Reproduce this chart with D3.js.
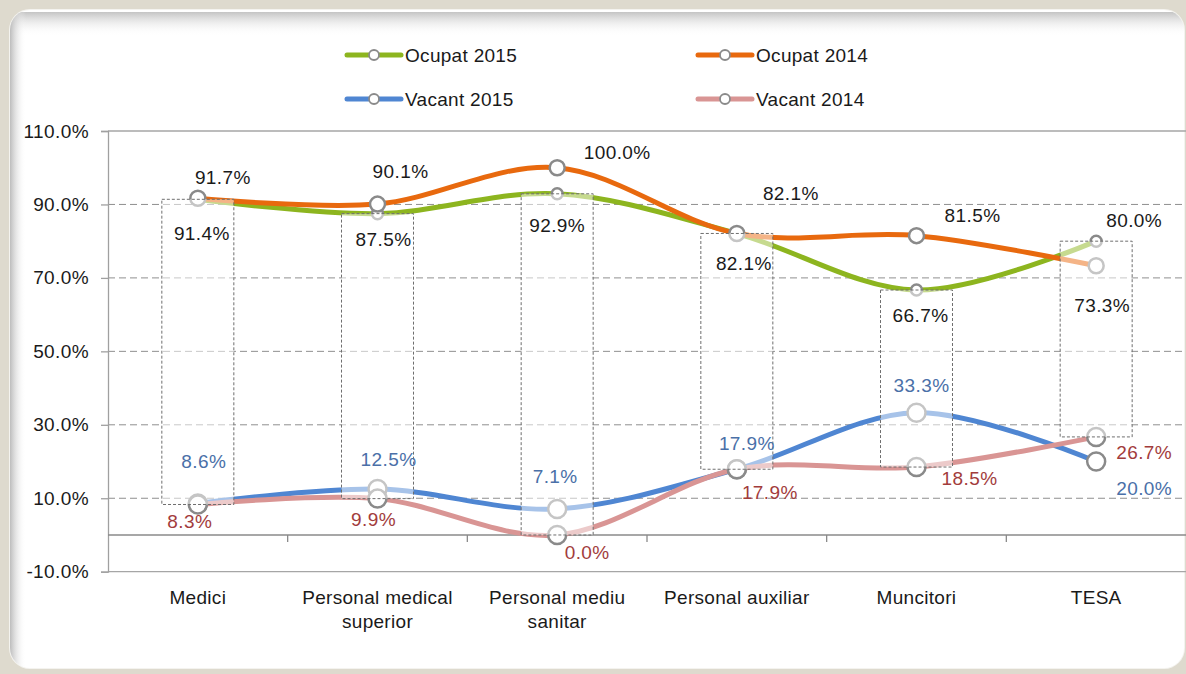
<!DOCTYPE html>
<html>
<head>
  <meta charset="utf-8">
  <title>Ocupat / Vacant 2014-2015</title>
  <script src="https://d3js.org/d3.v7.min.js"></script>
  <style>
    body { margin: 0; background: #dedace; }
    text { font-family: "Liberation Sans", Arial, sans-serif; }
  </style>
</head>
<body>
  <script>
    // data
    const categories = ["Medici", "Personal medical superior", "Personal mediu sanitar",
                        "Personal auxiliar", "Muncitori", "TESA"];
    const categoryLines = [["Medici"], ["Personal medical", "superior"], ["Personal mediu", "sanitar"],
                           ["Personal auxiliar"], ["Muncitori"], ["TESA"]];
    const ocupat2015 = [91.4, 87.5, 92.9, 82.1, 66.7, 80.0];
    const ocupat2014 = [91.7, 90.1, 100.0, 82.1, 81.5, 73.3];
    const vacant2015 = [8.6, 12.5, 7.1, 17.9, 33.3, 20.0];
    const vacant2014 = [8.3, 9.9, 0.0, 17.9, 18.5, 26.7];
    const yTicks = [-10, 10, 30, 50, 70, 90, 110];

    // series styling (drawing order = excel order)
    const series = [
      { name: "Ocupat 2015", values: ocupat2015, color: "#8db51f", text: "#1a1a1a", r: 5.5 },
      { name: "Ocupat 2014", values: ocupat2014, color: "#e8690e", text: "#1a1a1a", r: 7.5 },
      { name: "Vacant 2015", values: vacant2015, color: "#4f86d2", text: "#4a70a8", r: 9 },
      { name: "Vacant 2014", values: vacant2014, color: "#d99594", text: "#a23c3c", r: 9 }
    ];
    // manual label placement (offset from the point, like excel dragged labels)
    const labelOffsets = {
      "Ocupat 2015": [[4, 34], [6, 26], [0, 31], [7, 30], [4, 25], [38, -21]],
      "Ocupat 2014": [[25, -21], [23, -33], [60, -16], [54, -40], [56, -21], [6, 39]],
      "Vacant 2015": [[6, -42], [11, -30], [-2, -33], [10, -26], [5, -28], [48, 27]],
      "Vacant 2014": [[-8, 17], [-4, 21], [30, 17], [33, 23], [53, 11], [48, 15]]
    };

    const width = 1186, height = 674;
    const svg = d3.select("body").append("svg")
        .attr("width", width).attr("height", height);

    // panel with soft shading on top and left
    const defs = svg.append("defs");
    const gTop = defs.append("linearGradient").attr("id", "shadeTop")
        .attr("x1", 0).attr("y1", 0).attr("x2", 0).attr("y2", 1);
    gTop.append("stop").attr("offset", "0%").attr("stop-color", "#bdbdbd").attr("stop-opacity", 0.9);
    gTop.append("stop").attr("offset", "100%").attr("stop-color", "#fff").attr("stop-opacity", 0);
    const gLeft = defs.append("linearGradient").attr("id", "shadeLeft")
        .attr("x1", 0).attr("y1", 0).attr("x2", 1).attr("y2", 0);
    gLeft.append("stop").attr("offset", "0%").attr("stop-color", "#b5b5b5").attr("stop-opacity", 0.9);
    gLeft.append("stop").attr("offset", "100%").attr("stop-color", "#fff").attr("stop-opacity", 0);
    defs.append("clipPath").attr("id", "panelClip")
      .append("rect").attr("x", 10).attr("y", 10).attr("width", 1174).attr("height", 658).attr("rx", 20);

    svg.append("rect").attr("x", 9).attr("y", 9).attr("width", 1176).attr("height", 660).attr("rx", 21)
        .attr("fill", "#f4f3ef");
    svg.append("rect").attr("x", 10).attr("y", 10).attr("width", 1174).attr("height", 658).attr("rx", 20)
        .attr("fill", "#fff");
    const shade = svg.append("g").attr("clip-path", "url(#panelClip)");
    shade.append("rect").attr("x", 10).attr("y", 12).attr("width", 1174).attr("height", 24).attr("fill", "url(#shadeTop)");
    shade.append("rect").attr("x", 10).attr("y", 10).attr("width", 16).attr("height", 658).attr("fill", "url(#shadeLeft)");

    // scales
    const x = d3.scaleBand().domain(categories).range([108, 1186]);
    const y = d3.scaleLinear().domain([-10, 110]).range([571.7, 131]);
    const cx = i => x(categories[i]) + x.bandwidth() / 2;

    // gridlines
    svg.append("g").selectAll("line").data(yTicks).join("line")
        .attr("x1", 108).attr("x2", width)
        .attr("y1", d => y(d)).attr("y2", d => y(d))
        .attr("stroke", d => (d === 110 || d === -10) ? "#a6a6a6" : "#8f8f8f")
        .attr("stroke-width", d => (d === 110 || d === -10) ? 1.3 : 1)
        .attr("stroke-dasharray", d => (d === 110 || d === -10) ? null : "7,4");

    // y axis
    const yAxis = svg.append("g").attr("transform", "translate(108,0)")
        .call(d3.axisLeft(y).tickValues(yTicks).tickFormat(d => d.toFixed(1) + "%").tickSize(7).tickPadding(12));
    yAxis.select(".domain").attr("stroke", "#a0a0a0").attr("stroke-width", 1.3);
    yAxis.selectAll(".tick line").attr("stroke", "#a0a0a0").attr("stroke-width", 1.3);
    yAxis.selectAll(".tick text").attr("font-size", 19).attr("fill", "#1a1a1a")
        .attr("font-family", "Liberation Sans, Arial, sans-serif").style("letter-spacing", "0.4px");

    // category axis crossing at zero
    const xAxisG = svg.append("g");
    xAxisG.append("line").attr("x1", 108).attr("x2", width).attr("y1", y(0)).attr("y2", y(0))
        .attr("stroke", "#8a8a8a").attr("stroke-width", 1.3);
    xAxisG.selectAll("line.tk").data(categories.slice(1)).join("line").attr("class", "tk")
        .attr("x1", d => x(d)).attr("x2", d => x(d))
        .attr("y1", y(0)).attr("y2", y(0) + 7)
        .attr("stroke", "#8a8a8a").attr("stroke-width", 1.3);

    // category labels at the bottom
    const catLabel = svg.append("g").selectAll("text").data(categoryLines).join("text")
        .attr("x", (d, i) => cx(i)).attr("y", 604)
        .attr("text-anchor", "middle").attr("font-size", 19).attr("fill", "#1a1a1a")
        .style("letter-spacing", "0.3px");
    catLabel.selectAll("tspan").data(d => d).join("tspan")
        .attr("x", function () { return this.parentNode.getAttribute("x"); })
        .attr("dy", (d, i) => i === 0 ? 0 : 24)
        .text(d => d);

    // smoothed lines
    const line = d3.line()
        .x((d, i) => cx(i))
        .y(d => y(d))
        .curve(d3.curveCardinal.tension(0));
    svg.append("g").selectAll("path").data(series).join("path")
        .attr("d", s => line(s.values))
        .attr("fill", "none").attr("stroke", s => s.color).attr("stroke-width", 5)
        .attr("stroke-linecap", "round");

    // markers
    series.forEach(s => {
      svg.append("g").selectAll("circle").data(s.values).join("circle")
          .attr("cx", (d, i) => cx(i)).attr("cy", d => y(d)).attr("r", s.r)
          .attr("fill", "#fff").attr("stroke", "#8a8a8a").attr("stroke-width", 2.5);
    });

    // up/down bars between first and last series
    const boxW = 72;
    svg.append("g").selectAll("rect").data(categories).join("rect")
        .attr("x", (d, i) => cx(i) - boxW / 2)
        .attr("y", (d, i) => y(Math.max(ocupat2015[i], vacant2014[i])))
        .attr("width", boxW)
        .attr("height", (d, i) => Math.abs(y(vacant2014[i]) - y(ocupat2015[i])))
        .attr("fill", "#fff").attr("fill-opacity", 0.5)
        .attr("stroke", "#6e6e6e").attr("stroke-width", 1).attr("stroke-dasharray", "3,2");

    // data labels
    series.forEach(s => {
      svg.append("g").selectAll("text").data(s.values).join("text")
          .attr("x", (d, i) => cx(i) + labelOffsets[s.name][i][0])
          .attr("y", (d, i) => y(d) + labelOffsets[s.name][i][1])
          .attr("dy", "0.36em")
          .attr("text-anchor", "middle").attr("font-size", 19).attr("fill", s.text)
          .style("letter-spacing", "0.4px")
          .text(d => d.toFixed(1) + "%");
    });

    // legend, 2 x 2
    const legend = svg.append("g").selectAll("g").data(series).join("g")
        .attr("transform", (d, i) => `translate(${i % 2 === 0 ? 347 : 698},${i < 2 ? 55 : 99})`);
    legend.append("line").attr("x1", 0).attr("x2", 54).attr("y1", 0).attr("y2", 0)
        .attr("stroke", d => d.color).attr("stroke-width", 5).attr("stroke-linecap", "round");
    legend.append("circle").attr("cx", 27).attr("cy", 0).attr("r", 5)
        .attr("fill", "#fff").attr("stroke", "#8a8a8a").attr("stroke-width", 1.8);
    legend.append("text").attr("x", 58).attr("y", 0).attr("dy", "0.36em")
        .attr("font-size", 19).attr("fill", "#1a1a1a").style("letter-spacing", "0.3px")
        .text(d => d.name);
  </script>
</body>
</html>
